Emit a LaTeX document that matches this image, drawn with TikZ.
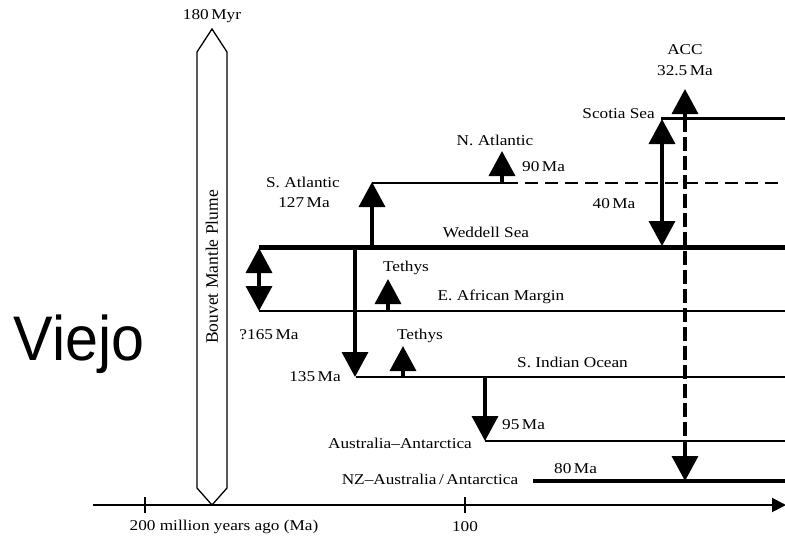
\documentclass[tikz,border=0pt]{standalone}
\usepackage{fontspec}
\setmainfont[FakeStretch=1.15]{Liberation Serif}
\newfontfamily\plumefont{Liberation Serif}
\newfontfamily\viejofont[FakeStretch=0.94]{Liberation Sans}
\usetikzlibrary{arrows.meta}
\tikzset{
  bigtip/.tip={Triangle[width=26pt,length=25pt]},
  lbl/.style={font=\fontsize{15}{17}\selectfont, inner sep=0pt},
  shaft/.style={line width=3.5pt},
  thinrule/.style={line width=2.2pt},
  axisline/.style={line width=2pt},
}
\begin{document}
\begin{tikzpicture}[x=1pt,y=-1pt]
\useasboundingbox (0,0) rectangle (785,538);
\clip (0,0) rectangle (785,538);
% coordinates
\coordinate (scoL) at (661,118);   \coordinate (scoR) at (785,118);
\coordinate (natL) at (372,183);   \coordinate (natM) at (505,183); \coordinate (natR) at (785,183);
\coordinate (wedL) at (259,247);   \coordinate (wedR) at (785,247);
\coordinate (eafL) at (259,311);   \coordinate (eafR) at (785,311);
\coordinate (sioL) at (356,377);   \coordinate (sioR) at (785,377);
\coordinate (ausL) at (485,441);   \coordinate (ausR) at (785,441);
\coordinate (nzL)  at (533,481);   \coordinate (nzR)  at (785,481);
% horizontal rules
\draw[line width=3pt] (scoL) -- (scoR);
\draw[thinrule] (natL) -- (natM);
\draw[thinrule, dash pattern=on 13pt off 7pt] (natM) -- (natR);
\draw[line width=5pt] (wedL) -- (wedR);
\draw[thinrule] (eafL) -- (eafR);
\draw[thinrule] (sioL) -- (sioR);
\draw[thinrule] (ausL) -- (ausR);
\draw[line width=4pt] (nzL) -- (nzR);
% vertical arrows
\coordinate (d1a) at (259,248); \coordinate (d1b) at (259,311);
\draw[shaft, {bigtip}-{bigtip}] (d1a) -- (d1b);
\coordinate (satA) at (372,247); \coordinate (satB) at (372,182);
\draw[shaft, -{bigtip}] (satA) -- (satB);
\coordinate (w135A) at (355,247); \coordinate (w135B) at (355,377);
\draw[shaft, -{bigtip}] (w135A) -- (w135B);
\coordinate (tet1A) at (388,311); \coordinate (tet1B) at (388,279);
\draw[shaft, -{bigtip}] (tet1A) -- (tet1B);
\coordinate (tet2A) at (403,377); \coordinate (tet2B) at (403,346);
\draw[shaft, -{bigtip}] (tet2A) -- (tet2B);
\coordinate (natA) at (502,183); \coordinate (natB) at (502,151);
\draw[shaft, -{bigtip}] (natA) -- (natB);
\coordinate (scoA) at (662,119); \coordinate (scoB) at (662,246);
\draw[shaft, {bigtip}-{bigtip}] (scoA) -- (scoB);
\coordinate (ausA) at (485,377); \coordinate (ausB) at (485,441);
\draw[shaft, -{bigtip}] (ausA) -- (ausB);
% ACC
\coordinate (accA) at (685,118); \coordinate (accT) at (685,89);
\coordinate (accM) at (685,455); \coordinate (accB) at (685,481);
\draw[shaft, -{bigtip}] (accA) -- (accT);
\draw[shaft, dash pattern=on 14pt off 5pt] (accA) -- (accM);
\draw[shaft, -{bigtip}] (accM) -- (accB);
% axis
\coordinate (axL) at (93,505); \coordinate (axR) at (786,505);
\draw[axisline, -{Triangle[width=14pt,length=14pt]}] (axL) -- (axR);
\coordinate (t200a) at (145,497); \coordinate (t200b) at (145,513);
\coordinate (t100a) at (465,497); \coordinate (t100b) at (465,513);
\draw[line width=1.5pt] (t200a) -- (t200b);
\draw[line width=1.5pt] (t100a) -- (t100b);
% plume
\draw[line width=1.3pt, fill=white] (197,52) -- (212,29) -- (227,52) -- (227,488) -- (212,505) -- (197,488) -- cycle;
\node[inner sep=0pt, font=\plumefont\fontsize{17.5}{19}\selectfont, rotate=90] (plume) at (212,267) {Bouvet Mantle Plume};
\node[lbl] (myr) at (212,16) {180\,Myr};
% labels
\node[lbl] (acc) at (685,50) {ACC};
\node[lbl] (acc2) at (685,71) {32.5\,Ma};
\node[lbl, anchor=east] (sco) at (655,114) {Scotia Sea};
\node[lbl] (natl) at (495,140) {N. Atlantic};
\node[lbl, anchor=west] (m90) at (522,167) {90\,Ma};
\node[lbl] (m40) at (614,204) {40\,Ma};
\node[lbl] (wed) at (486,232) {Weddell Sea};
\node[lbl] (satl) at (303,182) {S. Atlantic};
\node[lbl] (m127) at (304,203) {127\,Ma};
\node[lbl] (tet1) at (406,268) {Tethys};
\node[lbl] (eaf) at (501,297) {E. African Margin};
\node[lbl] (m165) at (269,335) {?165\,Ma};
\node[lbl] (tet2) at (420,336) {Tethys};
\node[lbl, anchor=west] (sio) at (517,362) {S. Indian Ocean};
\node[lbl] (m135) at (315,377) {135\,Ma};
\node[lbl, anchor=west] (m95) at (502,425) {95\,Ma};
\node[lbl] (aus) at (400,443) {Australia–Antarctica};
\node[lbl, anchor=west] (m80) at (554,469) {80\,Ma};
\node[lbl] (nz) at (430,479) {NZ–Australia\,/\,Antarctica};
\node[lbl] (ax200) at (224,527) {200 million years ago (Ma)};
\node[lbl] (ax100) at (465,527) {100};
\node[lbl] (ax0) at (791,527) {0};
% Viejo
\node[font=\viejofont\fontsize{63}{66}\selectfont, inner sep=0pt, anchor=base] (viejo) at (79,360) {Viejo};
\end{tikzpicture}
\end{document}
